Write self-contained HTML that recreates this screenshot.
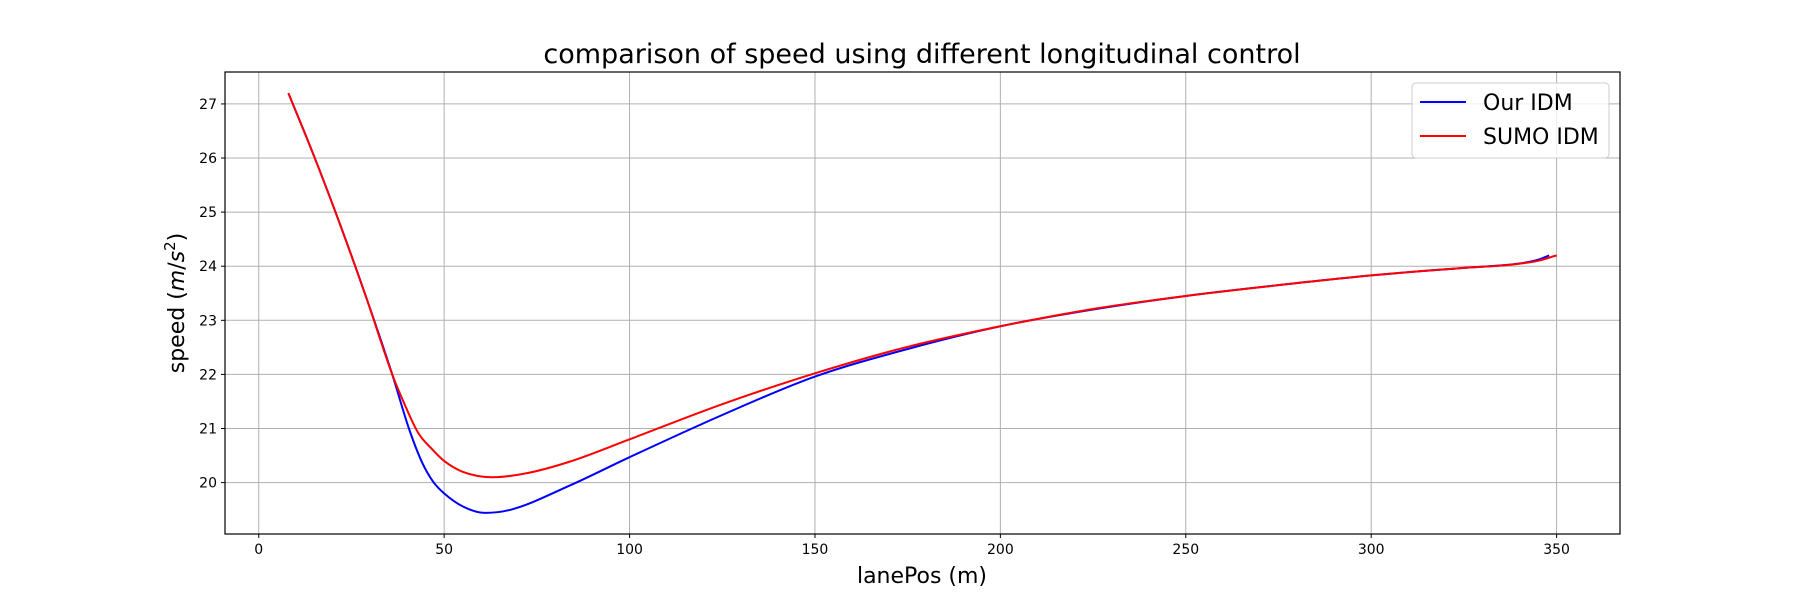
<!DOCTYPE html>
<html><head><meta charset="utf-8">
<style>
html,body{margin:0;padding:0;background:#fff;}
svg{display:block;font-family:"DejaVu Sans","Liberation Sans",sans-serif;}
</style></head>
<body>
<svg id="chart" width="1800" height="600" viewBox="0 0 1800 600">
  <rect x="0" y="0" width="1800" height="600" fill="#fff"/>
  <g id="grid"></g>
  <g id="series"></g>
  <rect x="225" y="72" width="1395" height="462" fill="none" stroke="#000" stroke-width="1.2"/>
  <g id="ticks"></g>
  <text x="922" y="63" font-size="27" text-anchor="middle">comparison of speed using different longitudinal control</text>
  <text x="922" y="583" font-size="22" text-anchor="middle">lanePos (m)</text>
  <text transform="translate(184,303) rotate(-90)" font-size="22" text-anchor="middle">speed (<tspan font-style="italic">m</tspan>/<tspan font-style="italic">s</tspan><tspan font-size="15" dy="-9">2</tspan><tspan dy="9">)</tspan></text>
  <g>
    <rect x="1412" y="83" width="197" height="75" rx="4" fill="#fff" fill-opacity="0.8" stroke="#ccc" stroke-width="1"/>
    <line x1="1420" y1="102" x2="1466" y2="102" stroke="#0000ff" stroke-width="2"/>
    <text x="1483" y="110" font-size="22">Our IDM</text>
    <line x1="1420" y1="136" x2="1466" y2="136" stroke="#ff0000" stroke-width="2"/>
    <text x="1483" y="144" font-size="22">SUMO IDM</text>
  </g>
</svg>
<script>
const xTicks = [0, 50, 100, 150, 200, 250, 300, 350];
const yTicks = [20, 21, 22, 23, 24, 25, 26, 27];
const ourX = [8, 15, 22, 29, 36, 40.5, 44, 47, 50, 55, 61, 68, 84, 100, 125, 150, 175, 200, 225, 250, 275, 300, 325, 340, 345, 348];
const ourY = [27.2, 26.02, 24.76, 23.42, 22.0, 21.0, 20.38, 20.02, 19.8, 19.56, 19.44, 19.5, 19.95, 20.47, 21.25, 21.96, 22.47, 22.89, 23.2, 23.45, 23.65, 23.83, 23.97, 24.05, 24.12, 24.2];
const sumoX = [8, 15, 22, 29, 36, 39, 43, 47, 50, 55, 63, 72, 84, 100, 125, 150, 175, 200, 225, 250, 275, 300, 325, 338, 345, 350];
const sumoY = [27.2, 26.02, 24.76, 23.42, 22.0, 21.5, 20.92, 20.6, 20.4, 20.2, 20.1, 20.17, 20.39, 20.8, 21.45, 22.02, 22.51, 22.89, 23.21, 23.45, 23.65, 23.83, 23.97, 24.03, 24.1, 24.2];

const X0 = 225, X1 = 1620, Y0 = 534, Y1 = 72;
const xMin = -9.1, xMax = 367.1, yMin = 19.05, yMax = 27.59;
const sx = v => X0 + (v - xMin) / (xMax - xMin) * (X1 - X0);
const sy = v => Y0 - (v - yMin) / (yMax - yMin) * (Y0 - Y1);
const NS = "http://www.w3.org/2000/svg";
const grid = document.getElementById('grid');
const ticks = document.getElementById('ticks');
const series = document.getElementById('series');
function mk(tag, attrs, parent){ const e = document.createElementNS(NS, tag); for (const k in attrs) e.setAttribute(k, attrs[k]); parent.appendChild(e); return e; }

xTicks.forEach(t => {
  const x = sx(t);
  const g = mk('line', {x1:x, y1:Y1, x2:x, y2:Y0, stroke:'#b0b0b0', 'stroke-width':1}, grid);
  
  
  const tk = mk('line', {x1:x, y1:Y0, x2:x, y2:Y0+4, stroke:'#000', 'stroke-width':1}, ticks);
  
  
  const lb = mk('text', {x:x, y:Y0+20, 'font-size':14, 'text-anchor':'middle'}, ticks);
  lb.textContent = t;
  
  
});
yTicks.forEach(t => {
  const y = sy(t);
  const g = mk('line', {x1:X0, y1:y, x2:X1, y2:y, stroke:'#b0b0b0', 'stroke-width':1}, grid);
  
  
  const tk = mk('line', {x1:X0-4, y1:y, x2:X0, y2:y, stroke:'#000', 'stroke-width':1}, ticks);
  
  
  const lb = mk('text', {x:X0-8, y:y+5, 'font-size':14, 'text-anchor':'end'}, ticks);
  lb.textContent = t;
  
  
});

// monotone cubic (Fritsch-Carlson) in pixel space
function smoothPath(xs, ys){
  const p = xs.map((x,i)=>[sx(x), sy(ys[i])]);
  const n = p.length, d = [], m = new Array(n);
  for (let i = 0; i < n-1; i++) d.push((p[i+1][1]-p[i][1])/(p[i+1][0]-p[i][0]));
  m[0] = d[0]; m[n-1] = d[n-2];
  for (let i = 1; i < n-1; i++) m[i] = (d[i-1]*d[i] <= 0) ? 0 : (d[i-1]+d[i])/2;
  for (let i = 0; i < n-1; i++){
    if (d[i] === 0){ m[i]=0; m[i+1]=0; continue; }
    const a = m[i]/d[i], b = m[i+1]/d[i], s = a*a+b*b;
    if (s > 9){ const t = 3/Math.sqrt(s); m[i]=t*a*d[i]; m[i+1]=t*b*d[i]; }
  }
  let path = 'M' + p[0][0] + ',' + p[0][1];
  for (let i = 0; i < n-1; i++){
    const h = (p[i+1][0]-p[i][0])/3;
    path += ' C' + (p[i][0]+h) + ',' + (p[i][1]+m[i]*h) + ' ' + (p[i+1][0]-h) + ',' + (p[i+1][1]-m[i+1]*h) + ' ' + p[i+1][0] + ',' + p[i+1][1];
  }
  return path;
}
const ourLine = mk('path', {d:smoothPath(ourX, ourY), fill:'none', stroke:'#0000ff', 'stroke-width':2}, series);


const sumoLine = mk('path', {d:smoothPath(sumoX, sumoY), fill:'none', stroke:'#ff0000', 'stroke-width':2}, series);


</script>
</body></html>
